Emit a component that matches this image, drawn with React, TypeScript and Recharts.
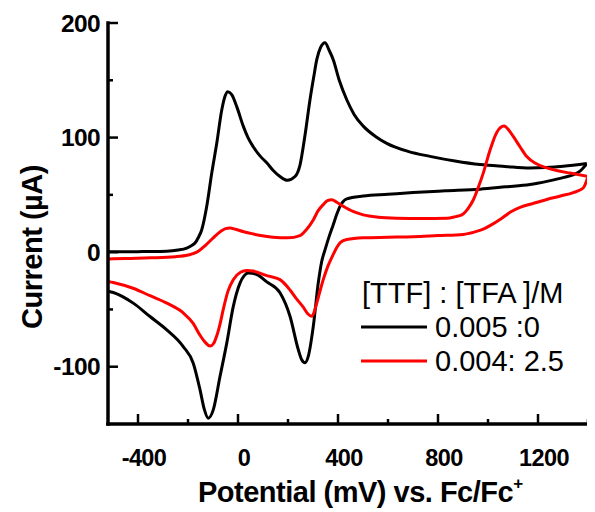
import React from 'react';
import { LineChart, Line, XAxis, YAxis } from 'recharts';

type Pt = { e: number; i: number };

const pts = (rows: number[][]): Pt[] => rows.map(([e, i]) => ({ e, i }));

// Potential (mV vs. Fc/Fc+) and current (µA); each sweep listed in ascending potential.
// [TTF] : [TFA] = 0.005 : 0, anodic sweep
const ttfOnlyForward = pts([
  [-520, 0.3], [-450, 0.3], [-380, 0.5], [-285, 0.8], [-240, 1.8], [-205, 3.6], [-185, 5.8],
  [-172, 8], [-158, 13], [-145, 19.6], [-125, 40], [-105, 69], [-85, 95], [-65, 124],
  [-52, 136], [-41, 140], [-25, 137.5], [-5, 127], [21, 110], [40, 100], [61, 92],
  [88, 84], [115, 78], [140, 71.5], [168, 66], [197, 62.7], [228, 66], [248, 76],
  [268, 102], [288, 133], [303, 153], [315, 168], [330, 178.5], [348, 182.7], [365, 176],
  [381, 168], [405, 150], [435, 133], [465, 120], [501, 110], [550, 101], [595, 95],
  [680, 88], [768, 83.6], [868, 79.5], [968, 76.4], [1068, 74.8], [1168, 73.5],
  [1301, 74.9], [1395, 77.3],
]);

// [TTF] : [TFA] = 0.005 : 0, cathodic sweep
const ttfOnlyReverse = pts([
  [-520, -34], [-499, -35.2], [-419, -44.5], [-352, -56.2], [-285, -67.8], [-219, -82.4],
  [-179, -96.9], [-152, -120], [-135, -137], [-119, -145], [-99, -137.7], [-72, -108.6],
  [-45, -79.4], [-19, -47.5], [8, -27], [25, -20.5], [41, -18.3], [75, -19.5], [115, -26],
  [168, -35.5], [208, -56], [241, -85], [255, -94], [268, -96.6], [281, -91], [301, -65],
  [321, -27], [335, -8], [348, 2], [365, 14], [381, 24], [395, 33], [408, 40], [420, 44],
  [435, 46.5], [501, 49], [600, 50.5], [700, 52], [830, 53.5], [968, 55], [1070, 57],
  [1168, 59], [1240, 62], [1300, 65], [1340, 67.5], [1368, 70.7], [1395, 77.3],
]);

// [TTF] : [TFA] = 0.004 : 2.5, anodic sweep
const ttfAcidForward = pts([
  [-520, -6], [-450, -5.5], [-350, -5], [-250, -4], [-200, -2.5], [-165, 0], [-130, 6],
  [-99, 12.5], [-70, 18], [-50, 20.5], [-32, 21], [-10, 20], [20, 18], [48, 16.5],
  [90, 14.5], [140, 13], [200, 12.5], [248, 14.5], [275, 20], [301, 28], [320, 36],
  [341, 41.5], [358, 45], [375, 45.8], [395, 43.5], [421, 40], [460, 35.5], [501, 32.5],
  [560, 30.5], [635, 29.6], [735, 29.3], [835, 29.6], [870, 31], [895, 32.5], [920, 38],
  [941, 45.5], [962, 57], [981, 69], [1008, 89], [1035, 104.5], [1064, 110], [1085, 106],
  [1101, 101], [1128, 92], [1155, 83.5], [1190, 77.5], [1235, 73.5], [1280, 71],
  [1328, 69], [1400, 66],
]);

// [TTF] : [TFA] = 0.004 : 2.5, cathodic sweep
const ttfAcidReverse = pts([
  [-520, -25.5], [-499, -26.5], [-420, -31.5], [-352, -38], [-280, -45], [-219, -53],
  [-180, -62], [-152, -72.5], [-130, -79], [-112, -82], [-97, -79.5], [-85, -73],
  [-70, -61], [-59, -50], [-40, -34], [-19, -24], [10, -17.5], [35, -16], [60, -16.5],
  [115, -20.5], [168, -24], [208, -33], [235, -41], [261, -48], [280, -54], [295, -56],
  [305, -52], [315, -44.5], [328, -34], [341, -24], [360, -12], [381, -2], [395, 4],
  [410, 8.5], [435, 11], [501, 12.5], [600, 13], [701, 13.5], [800, 14.5], [901, 15.5],
  [945, 17.5], [981, 20], [1015, 24], [1048, 28.5], [1090, 35], [1128, 39], [1180, 42.5],
  [1235, 46], [1290, 49], [1341, 52], [1381, 56], [1400, 66],
]);

const xTicks = [-400, -200, 0, 200, 400, 600, 800, 1000, 1200, 1400];
const xMajor = [-400, 0, 400, 800, 1200];
const yTicks = [-100, -50, 0, 50, 100, 150, 200];
const yMajor = [-100, 0, 100, 200];

const legendTitle = '[TTF] : [TFA ]/M';
const seriesNames = ['0.005 :0', '0.004: 2.5'];
const seriesColors = ['#000000', '#ff0000'];

const FONT = '"Liberation Sans", Arial, Helvetica, sans-serif';
const AXIS_W = 3.5;

const BottomTick = (props: any) => {
  const { x, y, payload } = props;
  const v = payload.value;
  const major = xMajor.includes(v);
  return (
    <g>
      <line x1={x} x2={x} y1={y} y2={y - (major ? 10 : 5)} stroke="#000" strokeWidth={2.5} />
      {major && (
        <text
          x={x + 6}
          y={y + 42}
          textAnchor="middle"
          fontFamily={FONT}
          fontWeight="bold"
          fontSize={23.5}
          letterSpacing={-0.6}
          fill="#000"
        >
          {v}
        </text>
      )}
    </g>
  );
};

const TopTick = (props: any) => {
  const { x, y } = props;
  return <line x1={x} x2={x} y1={y} y2={y + 4} stroke="#000" strokeWidth={2} />;
};

const LeftTick = (props: any) => {
  const { x, y, payload } = props;
  const v = payload.value;
  const major = yMajor.includes(v);
  return (
    <g>
      <line x1={x} x2={x + (major ? 10 : 5)} y1={y} y2={y} stroke="#000" strokeWidth={2.5} />
      {major && (
        <text
          x={x - 8}
          y={y + 8.5}
          textAnchor="end"
          fontFamily={FONT}
          fontWeight="bold"
          fontSize={24.5}
          letterSpacing={-0.6}
          fill="#000"
        >
          {v}
        </text>
      )}
    </g>
  );
};

const axisLine = { stroke: '#000', strokeWidth: AXIS_W, strokeLinecap: 'square' as const };

export default function App() {
  const W = 620;
  const H = 504;
  return (
    <div style={{ position: 'relative', width: 587, height: H, overflow: 'hidden' }}>
      <LineChart width={W} height={H} margin={{ top: 15, right: 28, bottom: 0, left: 0 }}>
        <XAxis
          type="number"
          dataKey="e"
          domain={[-520, 1448]}
          allowDataOverflow
          ticks={xTicks}
          interval={0}
          height={88}
          tickSize={0}
          tickMargin={0}
          axisLine={axisLine}
          tickLine={false}
          tick={(p: any) => <BottomTick {...p} />}
        />
        <XAxis
          xAxisId="top"
          orientation="top"
          type="number"
          dataKey="e"
          domain={[-520, 1448]}
          allowDataOverflow
          ticks={xTicks}
          interval={0}
          height={0}
          tickSize={0}
          tickMargin={0}
          axisLine={axisLine}
          tickLine={false}
          tick={(p: any) => <TopTick {...p} />}
        />
        <YAxis
          type="number"
          domain={[-150, 200]}
          allowDataOverflow
          ticks={yTicks}
          interval={0}
          width={100}
          tickSize={0}
          tickMargin={0}
          axisLine={axisLine}
          tickLine={false}
          tick={(p: any) => <LeftTick {...p} />}
        />
        <Line data={ttfOnlyForward} dataKey="i" type="monotone" stroke={seriesColors[0]} strokeWidth={3} dot={false} isAnimationActive={false} />
        <Line data={ttfOnlyReverse} dataKey="i" type="monotone" stroke={seriesColors[0]} strokeWidth={3} dot={false} isAnimationActive={false} />
        <Line data={ttfAcidForward} dataKey="i" type="monotone" stroke={seriesColors[1]} strokeWidth={3} dot={false} isAnimationActive={false} />
        <Line data={ttfAcidReverse} dataKey="i" type="monotone" stroke={seriesColors[1]} strokeWidth={3} dot={false} isAnimationActive={false} />
      </LineChart>
      <svg
        width={587}
        height={H}
        style={{ position: 'absolute', left: 0, top: 0, pointerEvents: 'none' }}
      >
        <text
          x={190}
          y={494}
          fontFamily={FONT}
          fontWeight="bold"
          fontSize={29}
          letterSpacing={-0.5}
          fill="#000"
        >
          Potential (mV) vs. Fc/Fc
          <tspan dy={-13} fontSize={17}>+</tspan>
        </text>
        <text
          transform="translate(34,239) rotate(-90)"
          textAnchor="middle"
          fontFamily={FONT}
          fontWeight="bold"
          fontSize={29}
          letterSpacing={-0.5}
          fill="#000"
        >
          Current (µA)
        </text>
        <text x={354} y={295} fontFamily={FONT} fontSize={29} fill="#000">
          {legendTitle}
        </text>
        {seriesNames.map((name, k) => (
          <g key={name}>
            <line
              x1={353}
              x2={419}
              y1={319 + k * 34}
              y2={319 + k * 34}
              stroke={seriesColors[k]}
              strokeWidth={3}
            />
            <text x={427} y={328.5 + k * 34} fontFamily={FONT} fontSize={29} fill="#000">
              {name}
            </text>
          </g>
        ))}
      </svg>
    </div>
  );
}
